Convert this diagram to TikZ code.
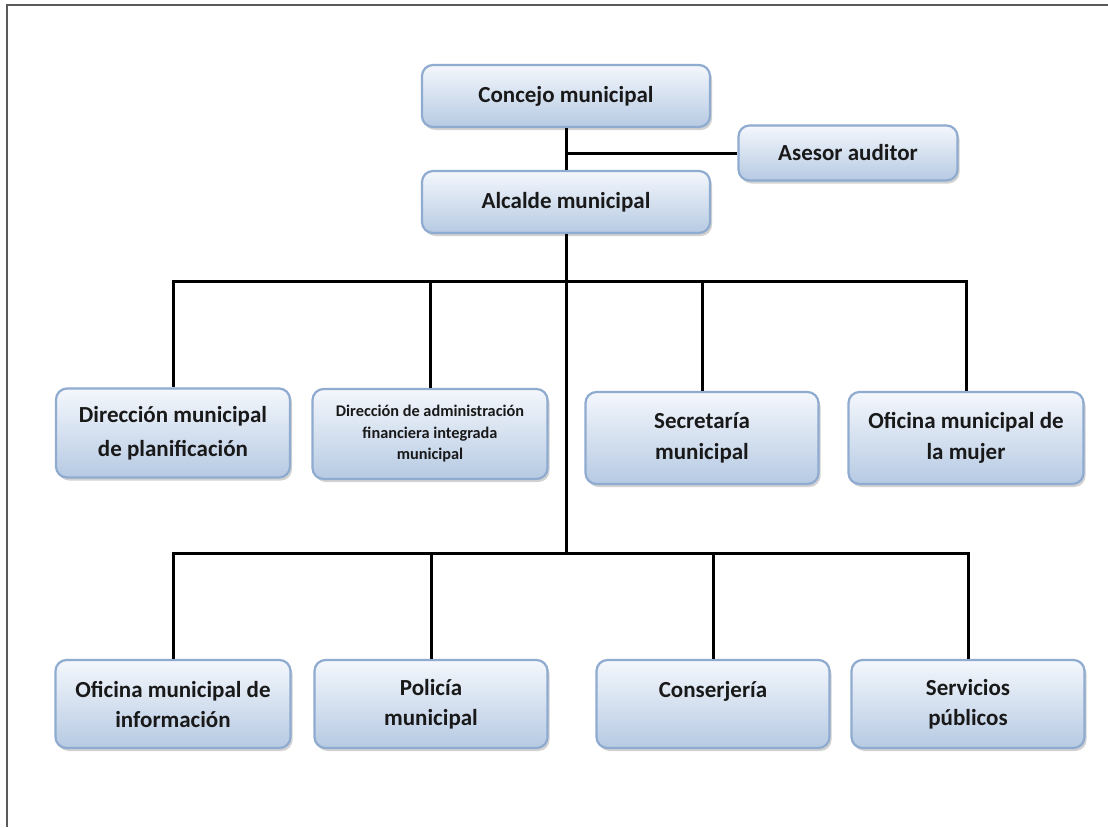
\documentclass[tikz,border=0pt]{standalone}
\usepackage{fontspec}
\setmainfont{Carlito}
\usetikzlibrary{shadows}
\definecolor{boxtop}{HTML}{F4F7FC}
\definecolor{boxbot}{HTML}{B6CAE3}
\definecolor{boxline}{HTML}{8FABCF}
\definecolor{frameline}{HTML}{5A5A5A}
\tikzset{
  orgbox/.style={draw=boxline, line width=2.2pt, rounded corners=11pt,
    top color=boxtop, bottom color=boxbot, align=center,
    font=\bfseries\fontsize{23}{30}\selectfont, text=black!90,
    drop shadow={opacity=0.35, shadow xshift=2pt, shadow yshift=-3pt}},
  link/.style={line width=3pt, black},
}
\begin{document}
\begin{tikzpicture}[x=1pt,y=-1pt]
\useasboundingbox (0,0) rectangle (1108,827);
\fill[white] (0,0) rectangle (1108,827);
\draw[frameline, line width=2pt] (7,827) -- (7,5) -- (1108,5);
% top
\node[orgbox, minimum width=288, minimum height=62] (concejo) at (566,96) {Concejo municipal};
\node[orgbox, minimum width=219, minimum height=55] (asesor) at (848,153) {Asesor auditor};
\node[orgbox, minimum width=288, minimum height=62] (alcalde) at (566,202) {Alcalde municipal};
% row 1
\node[orgbox, minimum width=234, minimum height=89, font=\bfseries\fontsize{23}{34}\selectfont] (dmp) at (173,433) {Dirección municipal\\de planificación};
\node[orgbox, minimum width=235, minimum height=90, font=\bfseries\fontsize{16.3}{21.5}\selectfont] (dafim) at (430,434) {Dirección de administración\\financiera integrada\\municipal};
\node[orgbox, minimum width=233, minimum height=92, font=\bfseries\fontsize{23}{31}\selectfont] (secr) at (702,438) {Secretaría\\municipal};
\node[orgbox, minimum width=235, minimum height=92, font=\bfseries\fontsize{23}{31}\selectfont] (mujer) at (966,438) {Oficina municipal de\\la mujer};
% row 2
\node[orgbox, minimum width=235, minimum height=88] (info) at (173,704) {Oficina municipal de\\información};
\node[orgbox, minimum width=233, minimum height=88] (poli) at (431,704) {Policía\\municipal};
\node[orgbox, minimum width=233, minimum height=88] (conse) at (713,704) {Conserjería\\\mbox{}};
\node[orgbox, minimum width=233, minimum height=88] (serv) at (968,704) {Servicios\\públicos};
% connectors
\coordinate (j1) at (concejo.south |- asesor.west);
\draw[link] (concejo.south) -- (alcalde.north);
\draw[link] (j1) -- (asesor.west);
\coordinate (b1) at (566,281);
\coordinate (b2) at (566,553);
\coordinate (b1l) at (173,281);
\coordinate (b1r) at (966,281);
\coordinate (b2l) at (173,553);
\coordinate (b2r) at (968,553);
\draw[link] (alcalde.south) -- (b2);
\draw[link, line cap=rect] (b1l) -- (b1r);
\draw[link, line cap=rect] (b2l) -- (b2r);
\draw[link] (b1l) -- (dmp.north);
\draw[link] (dafim.north |- b1) -- (dafim.north);
\draw[link] (secr.north |- b1) -- (secr.north);
\draw[link] (b1r) -- (mujer.north);
\draw[link] (b2l) -- (info.north);
\draw[link] (poli.north |- b2) -- (poli.north);
\draw[link] (conse.north |- b2) -- (conse.north);
\draw[link] (b2r) -- (serv.north);
\end{tikzpicture}
\end{document}
